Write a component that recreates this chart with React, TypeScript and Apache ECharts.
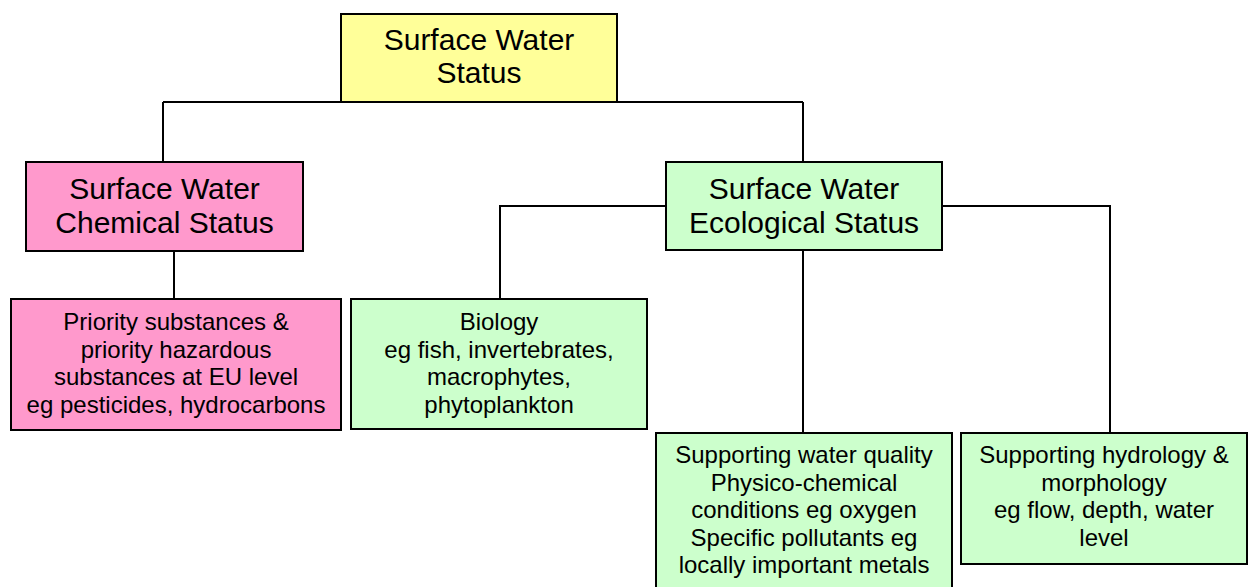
import React, { useEffect, useRef } from "react";
import * as echarts from "echarts";

// ---- data ----
const nodeIds = ["root", "chem", "eco", "priority", "biology", "swq", "hydro"];
const nodeLabels = [
  "Surface Water\nStatus",
  "Surface Water\nChemical Status",
  "Surface Water\nEcological Status",
  "Priority substances &\npriority hazardous\nsubstances at EU level\neg pesticides, hydrocarbons",
  "Biology\neg fish, invertebrates,\nmacrophytes,\nphytoplankton",
  "Supporting water quality\nPhysico-chemical\nconditions eg oxygen\nSpecific pollutants eg\nlocally important metals",
  "Supporting hydrology &\nmorphology\neg flow, depth, water\nlevel",
];
const nodeParents = ["", "root", "root", "chem", "eco", "eco", "eco"];

// ---- layout & styles (not data) ----
type Box = { x: number; y: number; w: number; h: number; fill: string; size: number; lh: number; pad: number };
const layout: Record<string, Box> = {
  root: { x: 341, y: 14, w: 276, h: 88, fill: "#FFFF99", size: 30, lh: 33, pad: 9 },
  chem: { x: 26, y: 162, w: 277, h: 89, fill: "#FF99CC", size: 30, lh: 34, pad: 9 },
  eco: { x: 666, y: 162, w: 276, h: 88, fill: "#CCFFCC", size: 30, lh: 34, pad: 9 },
  priority: { x: 11, y: 299, w: 330, h: 131, fill: "#FF99CC", size: 24, lh: 27.5, pad: 9 },
  biology: { x: 351, y: 299, w: 296, h: 130, fill: "#CCFFCC", size: 24, lh: 27.5, pad: 9 },
  swq: { x: 656, y: 433, w: 296, h: 160, fill: "#CCFFCC", size: 24, lh: 27.5, pad: 8 },
  hydro: { x: 961, y: 433, w: 286, h: 131, fill: "#CCFFCC", size: 24, lh: 27.5, pad: 8 },
};
// connector routes per child (points)
const connectors: Record<string, number[][]> = {
  chem: [[163, 102], [163, 162]],
  eco: [[803, 102], [803, 162]],
  priority: [[174, 251], [174, 299]],
  biology: [[666, 206], [500, 206], [500, 299]],
  swq: [[803, 250], [803, 433]],
  hydro: [[942, 206], [1110, 206], [1110, 433]],
};

export default function App() {
  const ref = useRef<HTMLDivElement>(null);
  useEffect(() => {
    if (!ref.current) return;
    const chart = echarts.init(ref.current, null, { renderer: "svg" });
    const elements: any[] = [];
    // top horizontal bus
    elements.push({
      type: "polyline",
      shape: { points: [[163, 102], [803, 102]] },
      style: { stroke: "#000", lineWidth: 2, fill: null },
      z: 1,
    });
    nodeIds.forEach((id, i) => {
      if (!nodeParents[i]) return;
      elements.push({
        type: "polyline",
        shape: { points: connectors[id] },
        style: { stroke: "#000", lineWidth: 2, fill: null },
        z: 1,
      });
    });
    nodeIds.forEach((id, i) => {
      const b = layout[id];
      elements.push({
        type: "rect",
        shape: { x: b.x, y: b.y, width: b.w, height: b.h },
        style: { fill: b.fill, stroke: "#000", lineWidth: 2 },
        z: 2,
      });
      elements.push({
        type: "text",
        x: b.x + b.w / 2,
        y: b.y + b.pad,
        style: {
          text: nodeLabels[i],
          align: "center",
          verticalAlign: "top",
          fontFamily: "Liberation Sans, Arial, sans-serif",
          fontSize: b.size,
          lineHeight: b.lh,
          fill: "#000",
        },
        z: 3,
      });
    });
    chart.setOption({
      animation: false,
      backgroundColor: "#fff",
      graphic: { elements },
    });
    return () => chart.dispose();
  }, []);
  return (
    <div
      ref={ref}
      style={{ position: "fixed", left: 0, top: 0, width: 1248, height: 587 }}
    />
  );
}
